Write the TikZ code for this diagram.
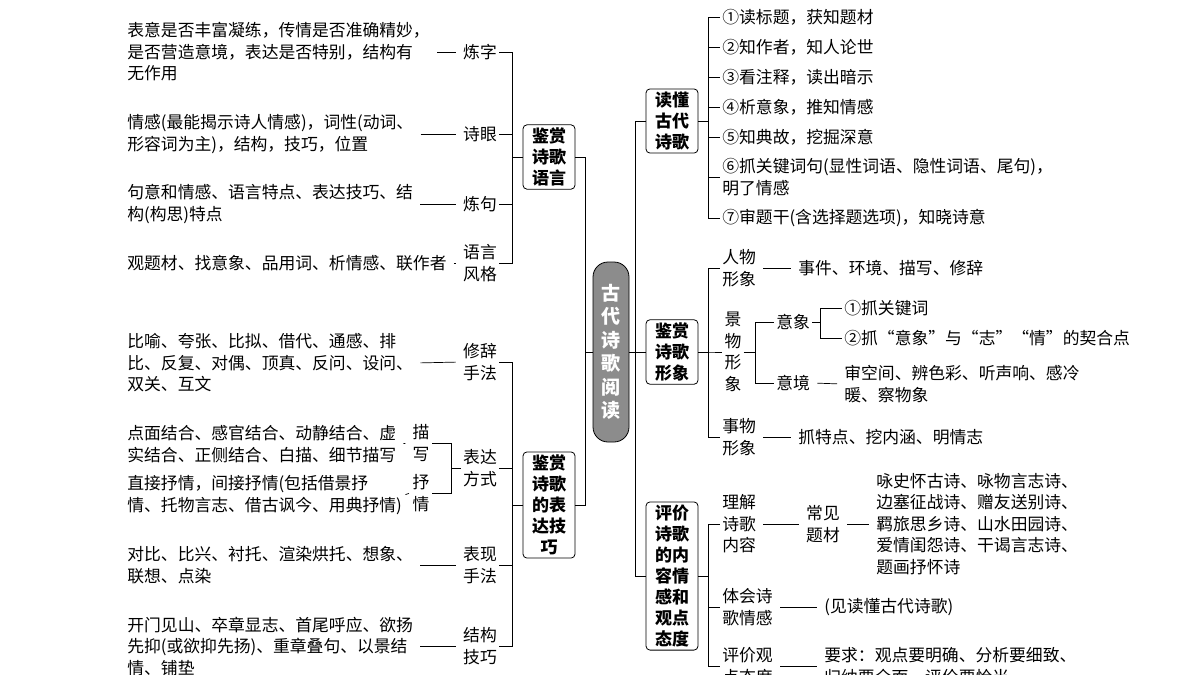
\documentclass[tikz,border=0pt]{standalone}
\usepackage{fontspec}
\setmainfont{Noto Sans CJK SC}
\tikzset{
  box/.style={draw, rounded corners=4pt, line width=0.8pt, inner sep=3pt, align=center,
    minimum width=52pt, font=\fontsize{17}{21}\selectfont\bfseries},
  centre/.style={draw, rounded corners=15pt, line width=0.8pt, fill=black!45, text=white,
    align=center, minimum width=36pt, minimum height=180pt, inner sep=2pt,
    font=\fontsize{19}{23.5}\selectfont\bfseries},
  txt/.style={anchor=west, align=left, inner sep=2pt, font=\fontsize{16.8}{21.5}\selectfont},
  lab/.style={align=left, inner sep=2pt, font=\fontsize{16.8}{21.5}\selectfont},
  link/.style={shorten <=5pt, shorten >=5pt},
}
\begin{document}
\begin{tikzpicture}[x=1pt, y=-1pt, line width=0.7pt]
\useasboundingbox (0,0) rectangle (1200,675);
\clip (0,0) rectangle (1200,675);
\coordinate (tl) at (585,0);
\coordinate (tr) at (637,0);
% centre
\node[centre] (root) at (611,352) {古\\代\\诗\\歌\\阅\\读};
% left boxes
\node[box] (b1) at (549,157) {鉴赏\\诗歌\\语言};
\node[box] (b2) at (549,505) {鉴赏\\诗歌\\的表\\达技\\巧};
\draw (b1.east) -- ++(10,0) |- (b2.east);
\draw (root.west) -- (root.west -| tl);
% language
\node[lab] (lianzi) at (480,52) {炼字};
\node[lab] (shiyan) at (480,134) {诗眼};
\node[lab] (lianju) at (480,204) {炼句};
\node[lab] (fengge) at (480,263) {语言\\风格};
\foreach \n in {lianzi,shiyan,lianju,fengge}
  \draw (b1.west) -- ++(-10,0) |- (\n.east);
\node[txt] (t1) at (125,52) {表意是否丰富凝练，传情是否准确精妙，\\是否营造意境，表达是否特别，结构有\\无作用};
\node[txt] (t2) at (125,134) {情感(最能揭示诗人情感)，词性(动词、\\形容词为主)，结构，技巧，位置};
\node[txt] (t3) at (125,204) {句意和情感、语言特点、表达技巧、结\\构(构思)特点};
\node[txt] (t4) at (125,263) {观题材、找意象、品用词、析情感、联作者};
\draw[link] (t1.east) -- (lianzi.west);
\draw[link] (t2.east) -- (shiyan.west);
\draw[link] (t3.east) -- (lianju.west);
\draw[link] (t4.east) -- (fengge.west);
% techniques
\node[lab] (xiuci) at (480,362) {修辞\\手法};
\node[lab] (fangshi) at (480,468) {表达\\方式};
\node[lab] (biaoxian) at (480,565) {表现\\手法};
\node[lab] (jiegou) at (480,646) {结构\\技巧};
\foreach \n in {xiuci,fangshi,biaoxian,jiegou}
  \draw (b2.west) -- ++(-10,0) |- (\n.east);
\node[lab] (miaoxie) at (421,443) {描\\写};
\node[lab] (shuqing) at (421,493) {抒\\情};
\draw (fangshi.west) -- ++(-10,0) |- (miaoxie.east);
\draw (fangshi.west) -- ++(-10,0) |- (shuqing.east);
\node[txt] (t5) at (125,363) {比喻、夸张、比拟、借代、通感、排\\比、反复、对偶、顶真、反问、设问、\\双关、互文};
\node[txt] (t6) at (125,444) {点面结合、感官结合、动静结合、虚\\实结合、正侧结合、白描、细节描写};
\node[txt] (t7) at (125,495) {直接抒情，间接抒情(包括借景抒\\情、托物言志、借古讽今、用典抒情)};
\node[txt] (t8) at (125,565) {对比、比兴、衬托、渲染烘托、想象、\\联想、点染};
\node[txt] (t9) at (125,646) {开门见山、卒章显志、首尾呼应、欲扬\\先抑(或欲抑先扬)、重章叠句、以景结\\情、铺垫};
\draw[link] (t5.east) -- (xiuci.west);
\draw[link] (t6.east) -- (miaoxie.west);
\draw[link] (t7.east) -- (shuqing.west);
\draw[link] (t8.east) -- (biaoxian.west);
\draw[link] (t9.east) -- (jiegou.west);
% right boxes
\node[box] (b3) at (672,121) {读懂\\古代\\诗歌};
\node[box] (b4) at (672,352) {鉴赏\\诗歌\\形象};
\node[box] (b5) at (672,576) {评价\\诗歌\\的内\\容情\\感和\\观点\\态度};
\draw (b3.west) -- ++(-10,0) |- (b5.west);
\draw (b4.west) -- (b4.west -| tr);
\draw (root.east) -- (root.east -| tr);
% reading
\node[txt] (r1) at (720,17) {①读标题，获知题材};
\node[txt] (r2) at (720,47) {②知作者，知人论世};
\node[txt] (r3) at (720,77) {③看注释，读出暗示};
\node[txt] (r4) at (720,107) {④析意象，推知情感};
\node[txt] (r5) at (720,137) {⑤知典故，挖掘深意};
\node[txt] (r6) at (720,177) {⑥抓关键词句(显性词语、隐性词语、尾句)，\\明了情感};
\node[txt] (r7) at (720,218) {⑦审题干(含选择题选项)，知晓诗意};
\foreach \n in {r1,r2,r3,r4,r5,r6,r7}
  \draw (b3.east) -- ++(10,0) |- (\n.west);
% images
\node[txt] (renwu) at (720,268) {人物\\形象};
\node[lab] (jingwu) at (733,352) {景\\物\\形\\象};
\node[txt] (shiwu) at (720,437) {事物\\形象};
\draw (b4.east) -- ++(10,0) |- (renwu.west);
\draw (b4.east) -- ++(10,0) |- (jingwu.west);
\draw (b4.east) -- ++(10,0) |- (shiwu.west);
\node[txt] (s1) at (796,268) {事件、环境、描写、修辞};
\node[txt] (s3) at (796,437) {抓特点、挖内涵、明情志};
\draw[link] (renwu.east) -- (s1.west);
\draw[link] (shiwu.east) -- (s3.west);
\node[txt] (yixiang) at (774,322) {意象};
\node[txt] (yijing) at (774,383) {意境};
\draw (jingwu.east) -- ++(12,0) |- (yixiang.west);
\draw (jingwu.east) -- ++(12,0) |- (yijing.west);
\node[txt] (yx1) at (842,308) {①抓关键词};
\node[txt] (yx2) at (842,338) {②抓“意象”与“志”“情”的契合点};
\draw (yixiang.east) -- ++(8,0) |- (yx1.west);
\draw (yixiang.east) -- ++(8,0) |- (yx2.west);
\node[txt] (yj) at (842,384) {审空间、辨色彩、听声响、感冷\\暖、察物象};
\draw[link] (yijing.east) -- (yj.west);
% evaluation
\node[txt] (lijie) at (720,524) {理解\\诗歌\\内容};
\node[txt] (tihui) at (720,607) {体会诗\\歌情感};
\node[txt] (pingjia) at (720,666) {评价观\\点态度};
\foreach \n in {lijie,tihui,pingjia}
  \draw (b5.east) -- ++(10,0) |- (\n.west);
\node[lab] (changjian) at (823,524) {常见\\题材};
\node[txt] (e1) at (874,524) {咏史怀古诗、咏物言志诗、\\边塞征战诗、赠友送别诗、\\羁旅思乡诗、山水田园诗、\\爱情闺怨诗、干谒言志诗、\\题画抒怀诗};
\node[txt] (e2) at (822,607) {(见读懂古代诗歌)};
\node[txt] (e3) at (822,666) {要求：观点要明确、分析要细致、\\归纳要全面、评价要恰当};
\draw[link] (lijie.east) -- (changjian.west);
\draw[link] (changjian.east) -- (e1.west);
\draw[link] (tihui.east) -- (e2.west);
\draw[link] (pingjia.east) -- (e3.west);
\end{tikzpicture}
\end{document}
